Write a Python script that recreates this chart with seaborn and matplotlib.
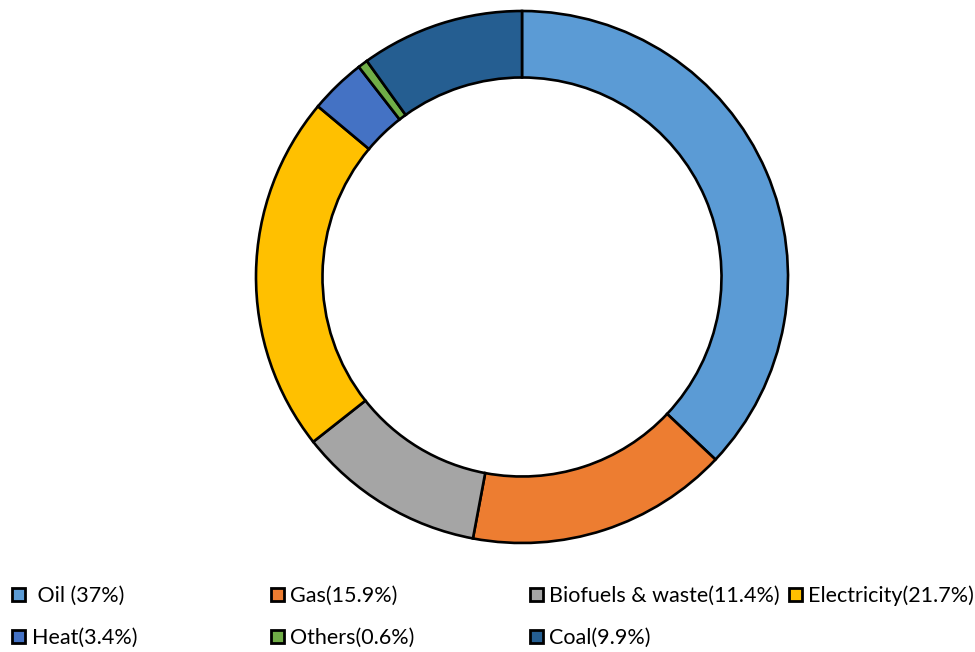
import matplotlib
matplotlib.use("Agg")
import matplotlib.pyplot as plt
import seaborn as sns
from matplotlib.patches import Rectangle

sns.set_theme(style="white")
plt.rcParams['font.family'] = ['Lato', 'DejaVu Sans']

labels = ["Oil", "Gas", "Biofuels & waste", "Electricity", "Heat", "Others", "Coal"]
values = [37.0, 15.9, 11.4, 21.7, 3.4, 0.6, 9.9]
legend_texts = [" Oil (37%)", "Gas(15.9%)", "Biofuels & waste(11.4%)", "Electricity(21.7%)",
                "Heat(3.4%)", "Others(0.6%)", "Coal(9.9%)"]
colors = ["#5B9BD5", "#ED7D31", "#A5A5A5", "#FFC000", "#4472C4", "#70AD47", "#255E91"]

W, H = 975, 652
fig = plt.figure(figsize=(W / 100, H / 100), dpi=100)
cx, cy, R = 522, 277, 266
ax = fig.add_axes([(cx - R) / W, (H - cy - R) / H, 2 * R / W, 2 * R / H])
ax.pie(values, colors=colors, startangle=90, counterclock=False, radius=1.0,
       wedgeprops=dict(width=0.25, edgecolor="black", linewidth=1.9))
ax.set_xlim(-1, 1)
ax.set_ylim(-1, 1)
ax.set_aspect("equal")
ax.axis("off")

# legend entries (manual layout to match the reference)
col_box_x = [12, 271, 530, 789]
col_text_x = [32, 290, 549, 808]
row_y = [594, 636]
for i, (txt, col) in enumerate(zip(legend_texts, colors)):
    r, c = divmod(i, 4)
    bx = col_box_x[c]
    by = row_y[r]
    s = 13
    fig.patches.append(Rectangle((bx / W, (H - by - s / 2) / H), s / W, s / H,
                                 transform=fig.transFigure, facecolor=col,
                                 edgecolor="black", linewidth=2.0))
    fig.text(col_text_x[c] / W, (H - by) / H, txt, ha="left", va="center_baseline",
             fontsize=15.5, color="black")

fig.savefig("out.png", dpi=100)
